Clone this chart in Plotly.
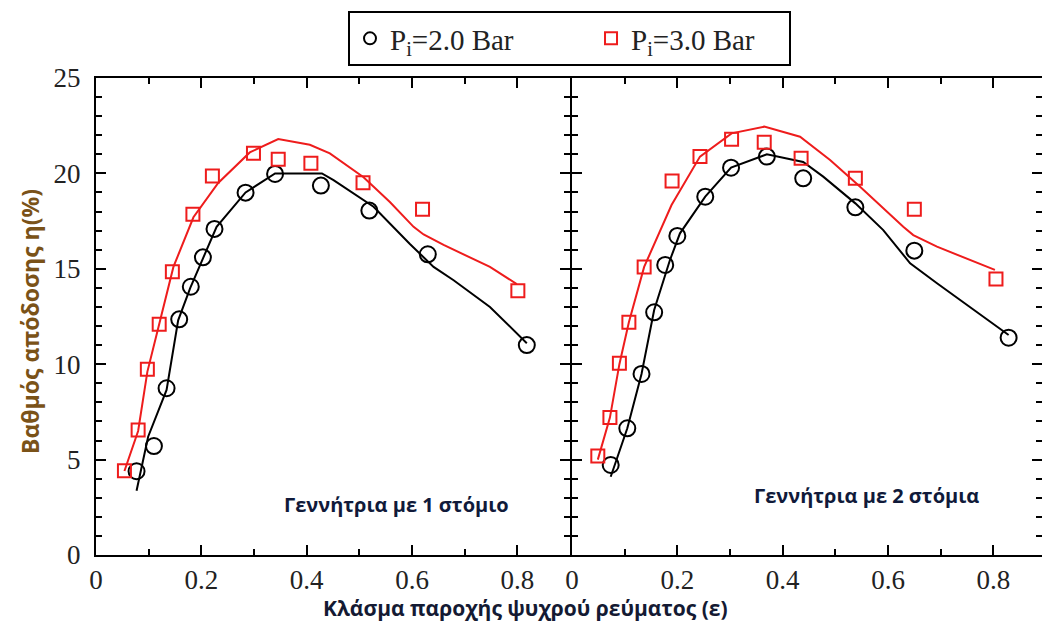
import plotly.graph_objects as go

# ---------------- data ----------------
# Left panel: generator with 1 nozzle
l_circ_x = [0.077, 0.110, 0.134, 0.158, 0.180, 0.203, 0.225, 0.284, 0.340, 0.427, 0.519, 0.630, 0.818]
l_circ_y = [4.39, 5.71, 8.74, 12.35, 14.06, 15.60, 17.09, 18.99, 19.97, 19.36, 18.05, 15.76, 11.00]
l_sq_x = [0.054, 0.080, 0.0975, 0.120, 0.145, 0.184, 0.221, 0.299, 0.346, 0.408, 0.507, 0.620, 0.801]
l_sq_y = [4.42, 6.55, 9.73, 12.09, 14.85, 17.86, 19.86, 21.05, 20.74, 20.53, 19.51, 18.12, 13.85]
l_blk_x = [0.077, 0.099, 0.134, 0.156, 0.179, 0.204, 0.229, 0.284, 0.340, 0.429, 0.451, 0.527, 0.596, 0.641, 0.679, 0.748, 0.818]
l_blk_y = [3.37, 6.2, 8.65, 12.3, 14.0, 15.6, 17.2, 19.0, 20.0, 20.0, 19.65, 18.25, 16.3, 15.1, 14.4, 13.0, 11.1]
l_red_x = [0.054, 0.080, 0.0975, 0.120, 0.147, 0.185, 0.232, 0.292, 0.346, 0.406, 0.444, 0.508, 0.558, 0.603, 0.622, 0.660, 0.748, 0.799]
l_red_y = [4.4, 6.5, 9.6, 12.1, 15.1, 17.7, 19.5, 21.1, 21.8, 21.5, 21.05, 19.8, 18.5, 17.2, 16.8, 16.25, 15.1, 14.2]

# Right panel: generator with 2 nozzles
r_circ_x = [0.0735, 0.105, 0.132, 0.156, 0.177, 0.200, 0.253, 0.302, 0.370, 0.439, 0.538, 0.650, 0.829]
r_circ_y = [4.72, 6.64, 9.49, 12.72, 15.20, 16.72, 18.78, 20.30, 20.88, 19.74, 18.22, 15.95, 11.39]
r_sq_x = [0.049, 0.072, 0.090, 0.108, 0.137, 0.190, 0.243, 0.303, 0.365, 0.435, 0.538, 0.650, 0.805]
r_sq_y = [5.19, 7.20, 10.05, 12.20, 15.10, 19.60, 20.88, 21.79, 21.63, 20.79, 19.74, 18.12, 14.47]
r_blk_x = [0.0735, 0.105, 0.132, 0.156, 0.186, 0.205, 0.253, 0.302, 0.370, 0.439, 0.477, 0.538, 0.591, 0.642, 0.693, 0.756, 0.829]
r_blk_y = [4.1, 6.64, 9.49, 12.84, 15.46, 16.86, 18.78, 20.3, 21.0, 20.6, 19.83, 18.43, 17.03, 15.29, 14.24, 13.0, 11.53]
r_red_x = [0.049, 0.072, 0.090, 0.108, 0.137, 0.189, 0.243, 0.303, 0.365, 0.433, 0.490, 0.547, 0.629, 0.648, 0.693, 0.756, 0.803]
r_red_y = [5.0, 7.2, 10.0, 12.2, 15.1, 18.34, 20.88, 22.1, 22.45, 21.92, 20.7, 19.3, 17.2, 16.77, 16.16, 15.46, 14.94]

legend_names = ["P<sub>i</sub>=2.0 Bar", "P<sub>i</sub>=3.0 Bar"]
panel_labels = ["Γεννήτρια με 1 στόμιο", "Γεννήτρια με 2 στόμια"]
x_title = "Κλάσμα παροχής ψυχρού ρεύματος (ε)"
y_title = "Βαθμός απόδοσης η(%)"
y_ticks = [0, 5, 10, 15, 20, 25]
x_ticks = [0, 0.2, 0.4, 0.6, 0.8]
x_ticktext = ["0", "0.2", "0.4", "0.6", "0.8"]

BLACK = "#000000"
RED = "#ee1c1c"

fig = go.Figure()

def add_panel(xa, ya, bx, by, rx, ry, cx, cy, sx, sy, legend):
    fig.add_trace(go.Scatter(x=bx, y=by, mode="lines", line=dict(color=BLACK, width=2),
                             xaxis=xa, yaxis=ya, showlegend=False, hoverinfo="skip"))
    fig.add_trace(go.Scatter(x=rx, y=ry, mode="lines", line=dict(color=RED, width=2),
                             xaxis=xa, yaxis=ya, showlegend=False, hoverinfo="skip"))
    fig.add_trace(go.Scatter(x=cx, y=cy, mode="markers", name=legend_names[0] + "&nbsp;" * 10,
                             marker=dict(symbol="circle-open", size=16, color=BLACK, line=dict(width=2)),
                             xaxis=xa, yaxis=ya, showlegend=legend))
    fig.add_trace(go.Scatter(x=sx, y=sy, mode="markers", name=legend_names[1] + "&nbsp;" * 4,
                             marker=dict(symbol="square-open", size=13, color=RED, line=dict(width=2)),
                             xaxis=xa, yaxis=ya, showlegend=legend))

add_panel("x", "y", l_blk_x, l_blk_y, l_red_x, l_red_y, l_circ_x, l_circ_y, l_sq_x, l_sq_y, True)
add_panel("x2", "y2", r_blk_x, r_blk_y, r_red_x, r_red_y, r_circ_x, r_circ_y, r_sq_x, r_sq_y, False)

W, H = 1042, 628
ML, MR, MT, MB = 96, 0, 78, 73
PW = W - ML - MR
PH = H - MT - MB
PX_PER_UNIT = (570 - 96) / 0.9

tickfont = dict(family="Liberation Serif, Times New Roman, serif", size=27, color="#222")

common_x = dict(showgrid=False, zeroline=False, showline=True, linecolor=BLACK, linewidth=2,
                mirror="ticks", ticks="inside", ticklen=10, tickwidth=2, tickcolor=BLACK,
                tickvals=x_ticks, ticktext=x_ticktext, tickfont=tickfont,
                minor=dict(dtick=0.1, tick0=0, ticks="inside", ticklen=6, tickwidth=2, tickcolor=BLACK))
common_y = dict(showgrid=False, zeroline=False, showline=True, linecolor=BLACK, linewidth=2,
                mirror="ticks", ticks="inside", ticklen=10, tickwidth=2, tickcolor=BLACK,
                tickvals=y_ticks, range=[0, 25], tickfont=tickfont,
                minor=dict(dtick=1, tick0=0, ticks="inside", ticklen=6, tickwidth=2, tickcolor=BLACK))

left_w = (570 - ML) / PW
right_start = (572 - ML) / PW
right_range = (W - 572) / PX_PER_UNIT

fig.update_layout(
    width=W, height=H,
    margin=dict(l=ML, r=MR, t=MT, b=MB, autoexpand=False),
    paper_bgcolor="white", plot_bgcolor="white",
    xaxis=dict(domain=[0, left_w], range=[0, 0.9], anchor="y", **common_x),
    yaxis=dict(domain=[0, 1], anchor="x", showticklabels=True, ticklabelstandoff=8, **common_y),
    xaxis2=dict(domain=[right_start, 1], range=[0, right_range], anchor="y2", **common_x),
    yaxis2=dict(domain=[0, 1], anchor="x2", showticklabels=False, **common_y),
    legend=dict(orientation="h", x=(348 - ML) / PW, y=1 + (MT - 11) / PH, xanchor="left", yanchor="top",
                bordercolor=BLACK, borderwidth=2, bgcolor="white",
                font=dict(family="Liberation Serif, Times New Roman, serif", size=29, color="#222"),
                itemsizing="constant"),
    showlegend=True,
)

annot_font = dict(family="Open Sans, Noto Sans, sans-serif", size=20, color="#101a3a")
fig.add_annotation(x=0.57, y=2.67, xref="x", yref="y", text="<b>" + panel_labels[0] + "</b>",
                   showarrow=False, font=annot_font)
fig.add_annotation(x=0.56, y=3.14, xref="x2", yref="y2", text="<b>" + panel_labels[1] + "</b>",
                   showarrow=False, font=annot_font)
fig.add_annotation(x=(525 - ML) / PW, y=-(608 - (MT + PH)) / PH, xref="paper", yref="paper",
                   text="<b>" + x_title + "</b>", showarrow=False,
                   font=dict(family="Open Sans, Noto Sans, sans-serif", size=21, color="#141a33"),
                   xanchor="center", yanchor="middle")
fig.add_annotation(x=-(ML - 30) / PW, y=(MT + PH - 322) / PH, xref="paper", yref="paper",
                   text="<b>" + y_title + "</b>", showarrow=False, textangle=-90,
                   font=dict(family="Open Sans, Noto Sans, sans-serif", size=23, color="#7a5218"),
                   xanchor="center", yanchor="middle")

fig.write_html("out.html", config={"displayModeBar": False},
               post_script="document.body.style.margin='0';")
